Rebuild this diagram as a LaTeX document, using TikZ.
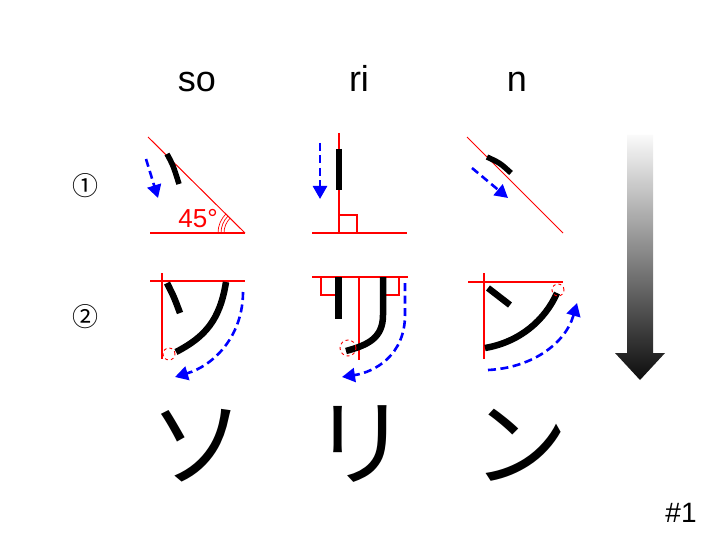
\documentclass[tikz,border=0pt]{standalone}
\usepackage{fontspec}
\setmainfont{Liberation Sans}
\newfontfamily\jpfont{Noto Sans CJK JP}
\usepackage{tikz}
\usetikzlibrary{arrows.meta}
\usetikzlibrary{positioning}
\definecolor{guidered}{RGB}{255,0,0}
\definecolor{motionblue}{RGB}{0,0,255}
\tikzset{guide/.style={draw=guidered,line width=2pt}}
\tikzset{slant/.style={draw=guidered,line width=1pt}}
\tikzset{kstroke/.style={draw=black,line width=6.5pt}}
\tikzset{motion/.style={draw=motionblue,line width=2.6pt,dash pattern=on 8pt off 4.5pt,-{Triangle[length=13pt,width=14pt]}}}
\tikzset{startmark/.style={circle,draw=guidered,dashed,line width=0.9pt,inner sep=0pt}}
\tikzset{head/.style={font=\fontsize{36}{36}\selectfont,anchor=base}}
\tikzset{stepnum/.style={font=\jpfont\fontsize{26}{26}\selectfont}}
\tikzset{kana/.style={font=\jpfont\fontsize{96}{96}\selectfont}}

\begin{document}
\begin{tikzpicture}[x=1pt,y=-1pt]
\useasboundingbox (0,0) rectangle (720,540);

% headings and step numbers
\node[head] (so) at (197,92) {so};
\node[head] (ri) at (359,92) {ri};
\node[head] (n) at (517,92) {n};
\node[stepnum] (one) at (85,186) {①};
\node[stepnum] (two) at (85,317) {②};
\node[font=\fontsize{28}{28}\selectfont,anchor=base] (page) at (681,522) {\#1};

% step 1
\draw[slant] (148,137) -- (245,233);
\draw[guide] (245,233) -- (150,233);
\foreach \r in {21,24,27}
  \draw[slant,line width=0.7pt] (245,233) ++(180:\r) arc[start angle=180,end angle=225,radius=\r];
\node[text=guidered,font=\fontsize{26}{26}\selectfont,anchor=base] (deg) at (198,228) {45°};
\draw[kstroke,line width=5.5pt] (167,154) .. controls (173,165) .. (179,184);
\draw[motion] (146,159) -- (158,198);

\draw[guide] (339,133) -- (339,233) (312,233) -- (407,233);
\draw[guide] (339,215) rectangle (357,233);
\draw[kstroke,line width=6pt] (339,149) -- (339,190);
\draw[motion] (320,143) -- (320,199);

\draw[slant] (467,137) -- (563,233);
\draw[kstroke,line width=5.5pt] (487,157) .. controls (500,163) .. (511,173);
\draw[motion] (472,168) -- (508,198);

% step 2
\draw[guide] (150,281) -- (245,281) (162,273) -- (162,359);
\draw[kstroke] (167,283) .. controls (174,297) .. (180,313);
\draw[kstroke] (226,282) .. controls (220,320) and (205,337) .. (176,352);
\node[startmark,minimum size=12pt] (so0) at (169,354) {};
\draw[motion] (243,292) .. controls (243,335) and (215,365) .. (175,377);

\draw[guide] (312,277) -- (408,277) (359,277) -- (359,360);
\draw[guide] (321,277) rectangle (339,295);
\draw[guide] (381,277) rectangle (399,295);
\draw[kstroke] (338.5,277) -- (338.5,319);
\draw[kstroke] (383,277) -- (383,315) .. controls (383,338) and (368,345) .. (346,351);
\node[startmark,minimum size=16pt] (ri0) at (348,348) {};
\draw[motion] (405,283) -- (405,315) .. controls (405,355) and (375,372) .. (342,377);

\draw[guide] (468,282) -- (563,282) (484,273) -- (484,359);
\draw[kstroke] (488,288) -- (510,305);
\draw[kstroke] (485,348) .. controls (520,342) and (545,320) .. (557,293);
\node[startmark,minimum size=12pt] (n0) at (558,290) {};
\draw[motion] (488,370) .. controls (530,368) and (565,345) .. (577,303);

% result
\node[kana] (kso) at (197,446) {ソ};
\node[kana] (kri) at (360,444) {リ};
\node[kana] (kn) at (520,445) {ン};

% order arrow
\shade[top color=black!2,bottom color=black!95]
  (627,135) -- (653,135) -- (653,353) -- (665,353) -- (640,380) -- (615,353) -- (627,353) -- cycle;
\end{tikzpicture}
\end{document}
